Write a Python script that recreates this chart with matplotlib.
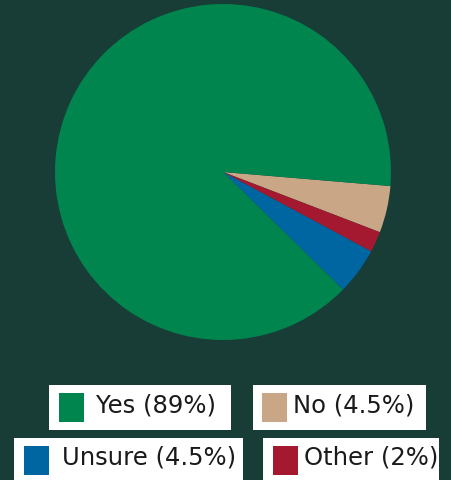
import matplotlib
matplotlib.use("Agg")
import matplotlib.pyplot as plt
from matplotlib.patches import Rectangle

# data
labels = ["Yes", "No", "Unsure", "Other"]
values = [89, 4.5, 4.5, 2]
colors = ["#00854f", "#c8a686", "#0066a1", "#a51930"]
legend_text = ["Yes (89%)", "No (4.5%)", "Unsure (4.5%)", "Other (2%)"]

bg = "#183c36"
W, H = 451, 480

fig = plt.figure(figsize=(W / 100, H / 100), dpi=100, facecolor=bg)

# pie, drawn clockwise from just below 3 o'clock: No, Other, Unsure, Yes
pie_order = [1, 3, 2, 0]
cx, cy, r = 223, 172, 168
ax = fig.add_axes([(cx - r) / W, (H - cy - r) / H, 2 * r / W, 2 * r / H])
ax.pie([values[i] for i in pie_order], colors=[colors[i] for i in pie_order],
       startangle=-4.8, counterclock=False, radius=1,
       wedgeprops=dict(linewidth=0))
ax.set_xlim(-1, 1)
ax.set_ylim(-1, 1)
ax.axis("off")

# legend: each entry in its own white box (pixel coords: x0, y0, x1, y1, marker x, text x)
boxes = [(49, 385, 231, 430, 59, 96),
         (253, 385, 426, 430, 262, 293),
         (14, 438, 243, 482, 24, 62),
         (263, 438, 439, 482, 273, 304)]


def fx(px):
    return px / W


def fy(py):
    return 1 - py / H


for (x0, y0, x1, y1, mx, tx), c, t in zip(boxes, colors, legend_text):
    fig.add_artist(Rectangle((fx(x0), fy(y1)), fx(x1) - fx(x0), fy(y0) - fy(y1),
                             transform=fig.transFigure, facecolor="white", edgecolor="none"))
    ym = (y0 + 8)
    fig.add_artist(Rectangle((fx(mx), fy(ym + 29)), fx(25), 29 / H,
                             transform=fig.transFigure, facecolor=c, edgecolor="none"))
    fig.text(fx(tx), fy(y0 + 20), t, fontsize=17.5, color="#1a1a1a",
             family="DejaVu Sans", va="center", ha="left")

fig.savefig("out.png", dpi=100, facecolor=bg)
